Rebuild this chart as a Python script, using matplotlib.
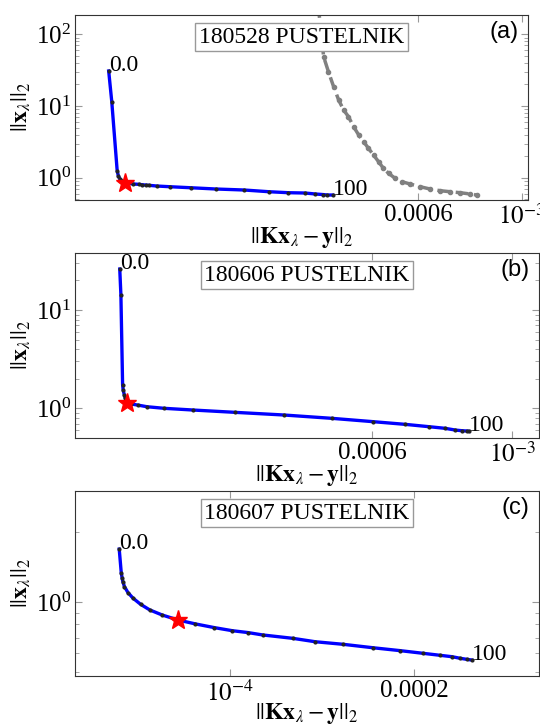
import matplotlib
matplotlib.use("Agg")
import matplotlib.pyplot as plt
from matplotlib.ticker import NullFormatter, NullLocator, FixedLocator, FixedFormatter

plt.rcParams['font.family'] = ['Liberation Serif', 'DejaVu Serif']
plt.rcParams['mathtext.fontset'] = 'stix'
plt.rcParams['font.size'] = 16

# panel (a) 180528
res_a = [1.31e-4, 1.33e-4, 1.366e-4, 1.374e-4, 1.384e-4, 1.397e-4, 1.42e-4, 1.48e-4, 1.52e-4,
         1.545e-4, 1.57e-4, 1.595e-4, 1.66e-4, 1.77e-4, 1.96e-4, 2.22e-4, 2.55e-4, 2.88e-4,
         3.17e-4, 3.44e-4, 3.62e-4, 3.75e-4, 3.84e-4, 3.94e-4]
norm_a = [30.8, 11.5, 1.24, 1.06, 0.96, 0.90, 0.851, 0.817, 0.809, 0.798, 0.791, 0.784, 0.766,
          0.749, 0.725, 0.696, 0.674, 0.638, 0.618, 0.612, 0.593, 0.583, 0.574, 0.574]
star_a = (1.42e-4, 0.851)
gray_res = [3.67e-4, 3.77e-4, 3.86e-4, 3.96e-4, 4.06e-4, 4.16e-4, 4.26e-4, 4.37e-4, 4.48e-4,
            4.59e-4, 4.70e-4, 4.82e-4, 4.94e-4, 5.06e-4, 5.19e-4, 5.36e-4, 5.54e-4, 5.77e-4,
            6.06e-4, 6.37e-4, 6.69e-4, 7.02e-4, 7.38e-4, 7.75e-4, 8.0e-4]
gray_norm = [256, 48.7, 30.1, 18.6, 12.1, 8.8, 7.1, 5.14, 3.94, 3.18, 2.57, 2.07, 1.67, 1.35,
             1.15, 0.98, 0.88, 0.817, 0.749, 0.695, 0.659, 0.638, 0.618, 0.593, 0.574]

# panel (b) 180606
res_b = [2.39e-4, 2.40e-4, 2.415e-4, 2.42e-4, 2.43e-4, 2.44e-4, 2.45e-4, 2.49e-4, 2.55e-4,
         2.64e-4, 2.81e-4, 3.12e-4, 3.64e-4, 4.35e-4, 5.18e-4, 6.03e-4, 6.77e-4, 7.39e-4,
         7.83e-4, 8.13e-4, 8.32e-4, 8.48e-4, 8.55e-4]
norm_b = [26.1, 14.2, 1.73, 1.535, 1.37, 1.26, 1.14, 1.106, 1.08, 1.038, 1.0, 0.961, 0.91,
          0.855, 0.791, 0.731, 0.687, 0.65, 0.626, 0.601, 0.592, 0.588, 0.583]
star_b = (2.45e-4, 1.14)

# panel (c) 180607
res_c = [6.58e-5, 6.63e-5, 6.65e-5, 6.67e-5, 6.71e-5, 6.80e-5, 6.93e-5, 7.13e-5, 7.38e-5,
         7.73e-5, 8.21e-5, 8.77e-5, 9.42e-5, 1.007e-4, 1.069e-4, 1.129e-4, 1.266e-4, 1.377e-4,
         1.53e-4, 1.712e-4, 1.897e-4, 2.067e-4, 2.207e-4, 2.307e-4, 2.378e-4, 2.44e-4, 2.486e-4]
norm_c = [1.687, 1.337, 1.273, 1.223, 1.164, 1.097, 1.038, 0.977, 0.924, 0.879, 0.836, 0.804,
          0.775, 0.752, 0.738, 0.721, 0.697, 0.674, 0.657, 0.635, 0.617, 0.601, 0.589, 0.581,
          0.572, 0.566, 0.562]
star_c = (8.21e-5, 0.836)

panels = [
    ("180528 PUSTELNIK", "(a)", res_a, norm_a, star_a, (1.11e-4, 1.03e-3), (0.489, 186),
     [6e-4, 1e-3], ['0.0006', '$10^{-3}$']),
    ("180606 PUSTELNIK", "(b)", res_b, norm_b, star_b, (2.03e-4, 1.103e-3), (0.499, 38),
     [6e-4, 1e-3], ['0.0006', '$10^{-3}$']),
    ("180607 PUSTELNIK", "(c)", res_c, norm_c, star_c, (5.57e-5, 3.2e-4), (0.48, 3.0),
     [1e-4, 2e-4], ['$10^{-4}$', '0.0002']),
]
boxes = [[75/540, 1-200/726, 453/540, 185/726],
         [75/540, 1-438/726, 464/540, 185/726],
         [75/540, 1-676/726, 464/540, 185/726]]

fig = plt.figure(figsize=(5.4, 7.26), dpi=100)

for i, (name, tag, xs, ys, star, xl, yl, xt, xtl) in enumerate(panels):
    ax = fig.add_axes(boxes[i])
    if i == 0:
        ax.plot(gray_res, gray_norm, '--', color='gray', marker='.', ms=6, lw=2.5)
    ax.plot(xs, ys, '-', color='blue', lw=2.4)
    ax.plot(xs, ys, '.', color='#222222', ms=4)
    ax.plot(star[0], star[1], '*', color='red', ms=14)
    ax.text(xs[0], ys[0], '0.0', fontsize=17)
    ax.text(xs[-1], ys[-1], '100', fontsize=17)
    ax.set_xscale('log')
    ax.set_yscale('log')
    ax.set_xlim(xl)
    ax.set_ylim(yl)
    ax.xaxis.set_major_locator(FixedLocator(xt))
    ax.xaxis.set_major_formatter(FixedFormatter(xtl))
    ax.xaxis.set_minor_locator(NullLocator())
    ax.yaxis.set_minor_formatter(NullFormatter())
    ax.tick_params(which='both', direction='in', top=True, right=True, color='#999999',
                   labelsize=18)
    ax.tick_params(which='major', length=5, pad=3)
    ax.tick_params(which='minor', length=3)
    for s in ax.spines.values():
        s.set_color('#333333')
    ax.set_xlabel(r'$||\mathbf{Kx}_\lambda - \mathbf{y}||_2$', fontsize=17, labelpad=-3)
    ax.set_ylabel(r'$||\mathbf{x}_\lambda||_2$', fontsize=17, labelpad=2)
    ax.text(0.5, 0.88, name, transform=ax.transAxes, ha='center', va='center', fontsize=17,
            bbox=dict(boxstyle='square,pad=0.15', fc='white', ec='#999999'))
    ax.text(0.98, 0.91, tag, transform=ax.transAxes, ha='right', va='center', fontsize=17,
            family=['Liberation Sans', 'DejaVu Sans'])

fig.savefig('out.png', dpi=100)
